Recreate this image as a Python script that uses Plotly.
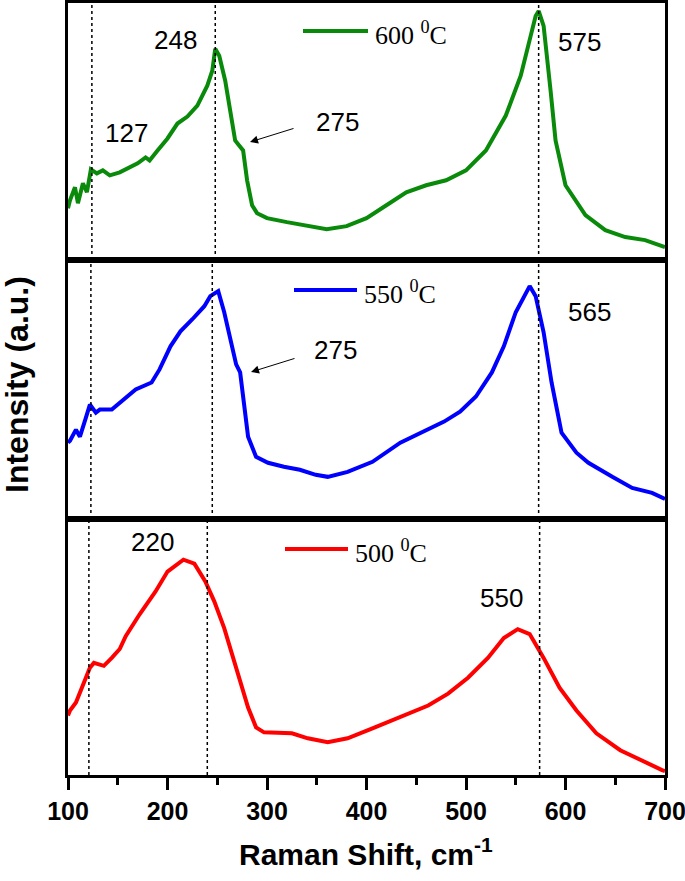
import plotly.graph_objects as go
from plotly.subplots import make_subplots

# ---------------- data ----------------
x_600 = [100, 102, 107, 110, 115, 119, 123, 129, 135, 142, 152, 160, 170, 178, 182, 190, 200, 210,
         220, 230, 240, 245, 248, 252, 258, 263, 268, 272, 276, 280, 285, 290, 300, 320, 340, 360,
         380, 400, 420, 440, 460, 480, 500, 520, 540, 555, 565, 570, 573, 578, 585, 590, 600, 620,
         640, 660, 680, 700]
y_600 = [52, 60, 73, 57, 77, 68, 91, 87, 90, 85, 88, 92, 97, 103, 100, 110, 122, 137,
         144, 155, 175, 190, 212, 205, 180, 150, 120, 115, 110, 80, 55, 47, 42, 38, 34, 31,
         34, 42, 55, 68, 75, 80, 90, 110, 145, 185, 225, 245, 250, 235, 170, 120, 75, 45,
         30, 23, 20, 13]

x_550 = [100, 102, 108, 112, 118, 122, 128, 132, 144, 152, 168, 184, 192, 203, 213, 225, 237, 243,
         251, 257, 265, 269, 273, 277, 281, 289, 301, 317, 333, 349, 361, 381, 406, 434, 454, 478,
         494, 510, 526, 538, 550, 560, 564, 570, 578, 586, 596, 611, 623, 647, 667, 687, 700]
y_550 = [76, 78, 89, 82, 101, 114, 106, 109, 109, 116, 129, 136, 149, 172, 187, 199, 212, 222,
         227, 206, 172, 154, 146, 116, 82, 62, 56, 52, 49, 44, 42, 47, 57, 76, 86, 97,
         107, 122, 146, 172, 206, 226, 232, 222, 186, 136, 86, 66, 56, 42, 31, 26, 20]

x_500 = [100, 102, 108, 116, 122, 126, 136, 144, 152, 158, 172, 188, 200, 216, 227, 238, 247, 257,
         269, 281, 289, 297, 325, 341, 361, 381, 406, 434, 462, 482, 502, 522, 538, 552, 564,
         578, 594, 611, 631, 655, 675, 697, 700]
y_500 = [60, 65, 73, 92, 108, 113, 110, 118, 127, 140, 162, 185, 205, 217, 213, 195, 175, 148,
         108, 68, 48, 43, 42, 37, 33, 37, 47, 58, 70, 82, 98, 118, 138, 147, 142,
         118, 88, 65, 42, 25, 15, 5, 4]

series_names = ["600 <sup>0</sup>C", "550 <sup>0</sup>C", "500 <sup>0</sup>C"]
series_colors = ["#0a8a0a", "#0000ff", "#ff0000"]

# reference (dotted) Raman positions per panel
vlines = [[124, 248, 573], [123, 245, 573], [121, 240, 574]]

x_ticks = [100, 200, 300, 400, 500, 600, 700]
x_minor = [150, 250, 350, 450, 550, 650]

# ---------------- figure ----------------
W, H = 685, 881
ML, MR, MT, MB = 68, 20, 3, 106
PW, PH = W - ML - MR, H - MT - MB


def px(xp):
    return (xp - ML) / PW


def py(yp):
    return (H - MB - yp) / PH


fig = make_subplots(rows=3, cols=1, shared_xaxes=True, vertical_spacing=0)

xs = [x_600, x_550, x_500]
ys = [y_600, y_550, y_500]
for i in range(3):
    fig.add_trace(go.Scatter(x=xs[i], y=ys[i], mode="lines",
                             line=dict(color=series_colors[i], width=4),
                             showlegend=False), row=i + 1, col=1)

bounds = [3, 260, 519, 775]
for i in range(3):
    dom = [py(bounds[i + 1]), py(bounds[i])]
    ya = "yaxis" if i == 0 else f"yaxis{i+1}"
    xa = "xaxis" if i == 0 else f"xaxis{i+1}"
    fig.layout[ya].update(domain=dom, range=[0, 258], showticklabels=False, ticks="",
                          showgrid=False, zeroline=False, showline=True, mirror=True,
                          linecolor="black", linewidth=3, automargin=False)
    fig.layout[xa].update(range=[100, 700], showgrid=False, zeroline=False, showline=True,
                          mirror=True, linecolor="black", linewidth=3, automargin=False)
    for v in vlines[i]:
        fig.add_shape(type="line", xref="x" if i == 0 else f"x{i+1}",
                      yref="y domain" if i == 0 else f"y{i+1} domain",
                      x0=v, x1=v, y0=0, y1=1,
                      line=dict(color="black", width=1.5, dash="dot"))

fig.layout.xaxis3.update(tickvals=x_ticks, ticks="outside", ticklen=12, tickwidth=2.5,
                         tickcolor="black", ticklabeloverflow="allow",
                         tickfont=dict(family="Liberation Sans, Arial", size=25, color="black",
                                       weight="bold"),
                         minor=dict(tickvals=x_minor, ticks="outside",
                                    ticklen=7, tickwidth=2.5, tickcolor="black"))
fig.layout.xaxis.update(showticklabels=False, ticks="")
fig.layout.xaxis2.update(showticklabels=False, ticks="")

# legends (line sample + label) for each panel
leg = [(303, 368, 31, 373), (294, 357, 290, 362), (285, 348, 549, 353)]
for i, (x0, x1, yy, xt) in enumerate(leg):
    fig.add_shape(type="line", xref="paper", yref="paper", x0=px(x0), x1=px(x1),
                  y0=py(yy), y1=py(yy), line=dict(color=series_colors[i], width=4))
    fig.add_annotation(xref="paper", yref="paper", x=px(xt), y=py(yy + 2),
                       text=series_names[i], showarrow=False, xanchor="left", yanchor="middle",
                       font=dict(family="Liberation Serif, Times New Roman", size=26,
                                 color="black"))

# peak labels
labels = [("248", 175, 40), ("127", 126, 133), ("275", 337, 122), ("575", 579, 42),
          ("275", 335, 350), ("565", 589, 312),
          ("220", 152, 542), ("550", 501, 598)]
for t, xp, yp in labels:
    fig.add_annotation(xref="paper", yref="paper", x=px(xp), y=py(yp), text=t,
                       showarrow=False, xanchor="center", yanchor="middle",
                       font=dict(family="Liberation Sans, Arial", size=26, color="black"))

# arrows pointing to the 275 shoulder
arrows = [((250, 142), (295, 128)), ((251, 372), (296, 358))]
for (hx, hy), (tx, ty) in arrows:
    fig.add_annotation(xref="paper", yref="paper", x=px(hx), y=py(hy), text="",
                       showarrow=True, ax=tx - hx, ay=ty - hy, arrowhead=2, arrowsize=1.6,
                       arrowwidth=1, arrowcolor="black")

# axis titles
fig.add_annotation(xref="paper", yref="paper", x=px(366), y=py(852),
                   text="Raman Shift, cm<sup>-1</sup>", showarrow=False,
                   xanchor="center", yanchor="middle",
                   font=dict(family="Liberation Sans, Arial", size=30, color="black",
                             weight="bold"))
fig.add_annotation(xref="paper", yref="paper", x=px(17), y=py(385),
                   text="Intensity (a.u.)", showarrow=False, textangle=-90,
                   xanchor="center", yanchor="middle",
                   font=dict(family="Liberation Sans, Arial", size=32, color="black",
                             weight="bold"))

fig.update_layout(width=W, height=H, margin=dict(l=ML, r=MR, t=MT, b=MB, autoexpand=False),
                  plot_bgcolor="white", paper_bgcolor="white", showlegend=False)

fig.write_html("out.html", config={"displayModeBar": False},
               post_script="document.body.style.margin='0';document.body.style.overflow='hidden';")
